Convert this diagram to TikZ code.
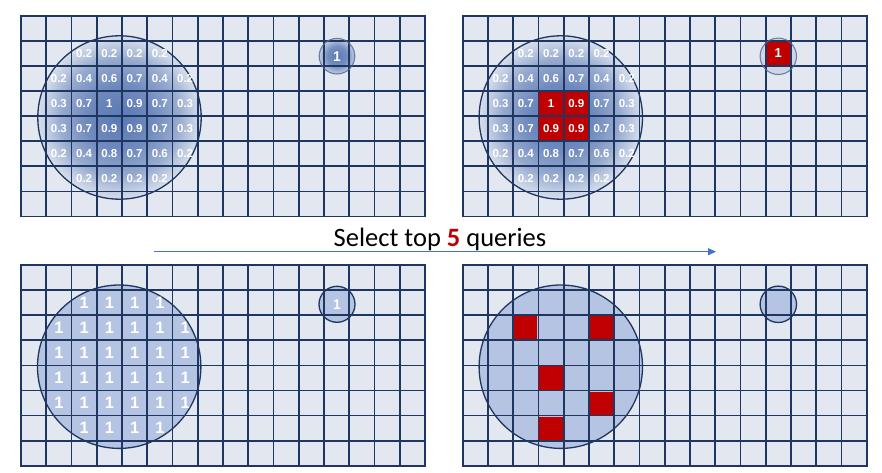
\documentclass[tikz,border=0pt]{standalone}
\usepackage{fontspec}
\setmainfont{Liberation Sans}
\newfontfamily\capfont{Carlito}
\usetikzlibrary{arrows.meta}
\definecolor{cellbg}{HTML}{E2E7F0}
\definecolor{gridc}{HTML}{1F3660}
\definecolor{circfill}{HTML}{B4C4E2}
\definecolor{qred}{HTML}{C00000}
\definecolor{glowc}{HTML}{5A79B4}
\definecolor{arrowc}{HTML}{4472C4}
\definecolor{ringc}{HTML}{53688F}
\pgfdeclareradialshading{bigglow}{\pgfpoint{0bp}{0bp}}{color(0bp)=(glowc); color(10bp)=(glowc!85!cellbg); color(18bp)=(glowc!55!cellbg); color(23bp)=(glowc!20!cellbg); color(25bp)=(glowc!8!cellbg); color(50bp)=(cellbg)}
\pgfdeclareradialshading{smallglow}{\pgfpoint{0bp}{0bp}}{color(0bp)=(glowc); color(14bp)=(glowc!80!cellbg); color(25bp)=(glowc!25!cellbg); color(50bp)=(cellbg)}
\newcommand\cw{25.25}
\newcommand\ch{25.1}
\newcommand\qgridbg[2]{\fill[cellbg] (#1,#2) rectangle ++(404,200.8);}
\newcommand\qgridlines[2]{%
  \foreach \i in {0,...,16} \draw[gridline] ({#1+\i*\cw},#2) -- ++(0,200.8);
  \foreach \j in {0,...,8} \draw[gridline] (#1,{#2+\j*\ch}) -- ++(404,0);}
\newcommand\qcell[5]{% x0 y0 col row style
  \fill[#5] ({#1+#3*\cw+1},{#2+#4*\ch+1}) rectangle ++({\cw-2},{\ch-2});}
\tikzset{
  gridline/.style={draw=gridc, line width=1.7pt, line cap=rect},
  ring/.style={draw=gridc, line width=1.3pt},
  val/.style={text=white, font=\bfseries\fontsize{11.5}{11.5}\selectfont, inner sep=0pt},
  one/.style={text=white, font=\bfseries\fontsize{16.5}{16.5}\selectfont, inner sep=0pt},
  redcell/.style={fill=qred}
}
\begin{document}
\begin{tikzpicture}[x=1pt,y=-1pt]
\useasboundingbox (0,0) rectangle (882,473);
% ---------- top-left ----------
\qgridbg{21}{15.7}
\shade[shading=bigglow] (119.5,117.5) circle[radius=81.7pt];
\shade[shading=smallglow] (337,56.2) circle[radius=17.8pt];
\qgridlines{21}{15.7}
\draw[ring] (119.5,117.5) circle[radius=81.7pt];
\draw[draw=ringc, line width=1.1pt, draw opacity=0.8] (337,56.2) circle[radius=17.8pt];
\node[one, font=\bfseries\fontsize{14}{14}\selectfont] (tlsmall) at (337,56.2) {1};
\foreach \c/\r/\t in {2/1/0.2,3/1/0.2,4/1/0.2,5/1/0.2,
  1/2/0.2,2/2/0.4,3/2/0.6,4/2/0.7,5/2/0.4,6/2/0.2,
  1/3/0.3,2/3/0.7,3/3/1,4/3/0.9,5/3/0.7,6/3/0.3,
  1/4/0.3,2/4/0.7,3/4/0.9,4/4/0.9,5/4/0.7,6/4/0.3,
  1/5/0.2,2/5/0.4,3/5/0.8,4/5/0.7,5/5/0.6,6/5/0.2,
  2/6/0.2,3/6/0.2,4/6/0.2,5/6/0.2}
  \node[val] (tl-\c-\r) at ({21+(\c+0.5)*\cw},{15.7+(\r+0.5)*\ch}) {\t};
% ---------- top-right ----------
\qgridbg{462.7}{15.7}
\shade[shading=bigglow] (560.8,117.5) circle[radius=81.7pt];
\fill[cellbg!85!glowc] (778.3,56.3) circle[radius=18.2pt];
\qcell{462.7}{15.7}{3}{3}{redcell}
\qcell{462.7}{15.7}{4}{3}{redcell}
\qcell{462.7}{15.7}{3}{4}{redcell}
\qcell{462.7}{15.7}{4}{4}{redcell}
\qcell{462.7}{15.7}{12}{1}{redcell}
\qgridlines{462.7}{15.7}
\draw[ring] (560.8,117.5) circle[radius=81.7pt];
\draw[draw=ringc, line width=1.1pt, draw opacity=0.8] (778.3,56.3) circle[radius=18.2pt];
\node[one, font=\bfseries\fontsize{13}{13}\selectfont] (trsmall) at ({462.7+12.5*\cw},{15.7+1.5*\ch}) {1};
\foreach \c/\r/\t in {2/1/0.2,3/1/0.2,4/1/0.2,5/1/0.2,
  1/2/0.2,2/2/0.4,3/2/0.6,4/2/0.7,5/2/0.4,6/2/0.2,
  1/3/0.3,2/3/0.7,3/3/1,4/3/0.9,5/3/0.7,6/3/0.3,
  1/4/0.3,2/4/0.7,3/4/0.9,4/4/0.9,5/4/0.7,6/4/0.3,
  1/5/0.2,2/5/0.4,3/5/0.8,4/5/0.7,5/5/0.6,6/5/0.2,
  2/6/0.2,3/6/0.2,4/6/0.2,5/6/0.2}
  \node[val] (tr-\c-\r) at ({462.7+(\c+0.5)*\cw},{15.7+(\r+0.5)*\ch}) {\t};
% ---------- bottom-left ----------
\qgridbg{21}{265}
\fill[circfill] (119.2,366.7) circle[radius=81.7pt];
\fill[circfill] (337,304.3) circle[radius=18pt];
\qgridlines{21}{265}
\draw[ring] (119.2,366.7) circle[radius=81.7pt];
\draw[ring] (337,304.3) circle[radius=18pt];
\node[one, font=\bfseries\fontsize{14}{14}\selectfont] (blsmall) at (337,304.3) {1};
\foreach \c/\r in {2/1,3/1,4/1,5/1,
  1/2,2/2,3/2,4/2,5/2,6/2,
  1/3,2/3,3/3,4/3,5/3,6/3,
  1/4,2/4,3/4,4/4,5/4,6/4,
  1/5,2/5,3/5,4/5,5/5,6/5,
  2/6,3/6,4/6,5/6}
  \node[one] (bl-\c-\r) at ({21+(\c+0.5)*\cw},{265+(\r+0.5)*\ch}) {1};
% ---------- bottom-right ----------
\qgridbg{462.7}{265}
\fill[circfill] (560.8,366.7) circle[radius=81.7pt];
\fill[circfill] (778.3,304.3) circle[radius=18.2pt];
\qcell{462.7}{265}{2}{2}{redcell}
\qcell{462.7}{265}{5}{2}{redcell}
\qcell{462.7}{265}{3}{4}{redcell}
\qcell{462.7}{265}{5}{5}{redcell}
\qcell{462.7}{265}{3}{6}{redcell}
\qgridlines{462.7}{265}
\draw[ring] (560.8,366.7) circle[radius=81.7pt];
\draw[ring] (778.3,304.3) circle[radius=18.2pt];
% ---------- arrow and caption ----------
\coordinate (arrS) at (154.3,251.7);
\coordinate (arrE) at (716,251.7);
\draw[arrowc, line width=0.9pt, -{Triangle[length=8pt,width=7pt]}] (arrS) -- (arrE);
\node[anchor=base, inner sep=0pt, font=\capfont\fontsize{26.5}{26.5}\selectfont] (caption) at (440,246.7) {Select top {\bfseries\color{qred}5} queries};
\end{tikzpicture}
\end{document}
